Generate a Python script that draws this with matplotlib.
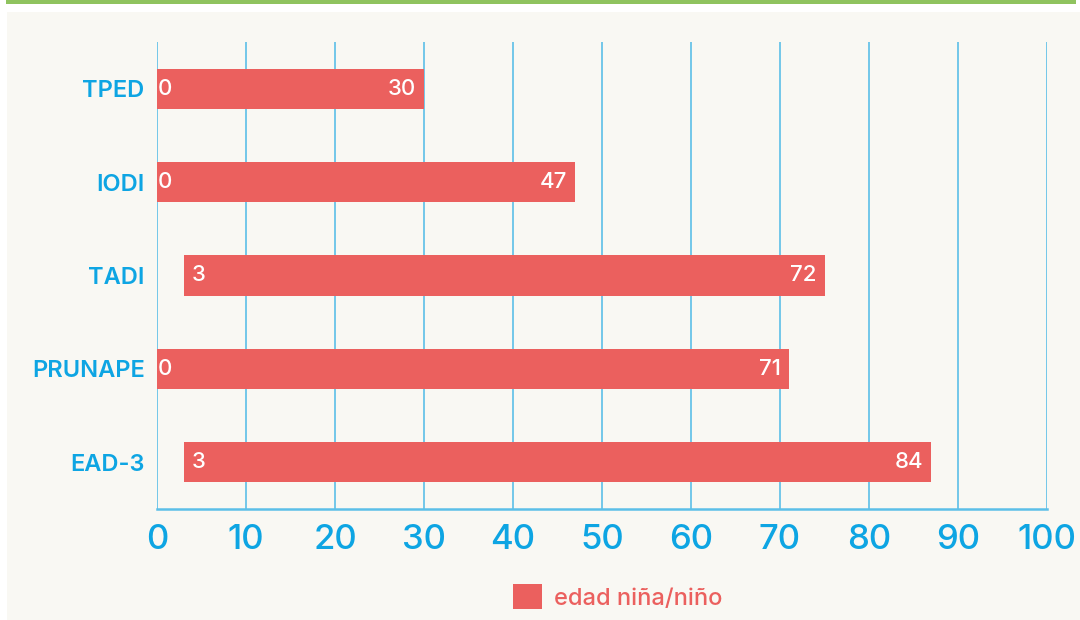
import matplotlib
matplotlib.use("Agg")
import matplotlib.pyplot as plt
from matplotlib.patches import Rectangle
import matplotlib.transforms as mtransforms

categories = ["TPED", "IODI", "TADI", "PRUNAPE", "EAD-3"]
start_ages = [0, 0, 3, 0, 3]
durations = [30, 47, 72, 71, 84]
xticks = [0, 10, 20, 30, 40, 50, 60, 70, 80, 90, 100]
legend_label = "edad niña/niño"

BLUE = "#0ea5e3"
GRID = "#5cbfe8"
RED = "#eb605e"
PANEL = "#f9f8f3"
GREEN = "#8fc35f"
FONT = ["Inter", "DejaVu Sans"]

plt.rcParams["font.family"] = FONT

fig = plt.figure(figsize=(10.8, 6.2), dpi=100)
fig.patch.set_facecolor("white")

# background panel and top green band
fig.patches.append(Rectangle((7 / 1080, 0), 1 - 7 / 1080, 1 - 12 / 620,
                             transform=fig.transFigure, facecolor=PANEL,
                             edgecolor="none", zorder=-10))
fig.patches.append(Rectangle((6 / 1080, 1 - 4 / 620), 1070 / 1080, 4 / 620,
                             transform=fig.transFigure, facecolor=GREEN,
                             edgecolor="none", zorder=-10))

ax = fig.add_axes([157 / 1080, 111 / 620, 890 / 1080, 467 / 620])
ax.set_facecolor("none")

ypos = list(range(len(categories)))
ax.barh(ypos, durations, left=start_ages, height=0.43, color=RED, zorder=3,
        label=legend_label)

ax.set_xlim(0, 100)
ax.set_ylim(len(categories) - 0.5, -0.5)
ax.set_xticks(xticks)
ax.set_xticklabels([str(t) for t in xticks])
ax.set_yticks(ypos)
ax.set_yticklabels(categories)

ax.tick_params(axis="x", length=0, pad=11, labelsize=25, labelcolor=BLUE)
ax.tick_params(axis="y", length=0, pad=9, labelsize=17, labelcolor=BLUE)
for lbl in ax.get_xticklabels():
    lbl.set_fontweight("medium")
for lbl in ax.get_yticklabels():
    lbl.set_fontweight("semibold")

ax.grid(axis="x", color=GRID, linewidth=1.2, zorder=0)
ax.grid(axis="y", visible=False)
for s in ["top", "right", "left"]:
    ax.spines[s].set_visible(False)
ax.spines["bottom"].set_color(GRID)
ax.spines["bottom"].set_linewidth(1.8)

for i, (s, d) in enumerate(zip(start_ages, durations)):
    dx = 8 if s > 0 else 1
    tr = ax.transData + mtransforms.ScaledTranslation(dx / 100, 0, fig.dpi_scale_trans)
    ax.text(s, i, str(s), transform=tr, ha="left", va="center",
            color="white", fontsize=16, fontweight="medium", zorder=4)
    tr2 = ax.transData + mtransforms.ScaledTranslation(-8 / 100, 0, fig.dpi_scale_trans)
    ax.text(s + d, i, str(d), transform=tr2, ha="right", va="center",
            color="white", fontsize=16, fontweight="medium", zorder=4)

leg = fig.legend(loc="center", bbox_to_anchor=(0.572, 1 - 597 / 620),
                 frameon=False, fontsize=17, handlelength=1.25, handleheight=1.25,
                 handletextpad=0.5, labelcolor=RED)
for t in leg.get_texts():
    t.set_fontweight("medium")

fig.savefig("out.png", dpi=100, facecolor=fig.get_facecolor())
